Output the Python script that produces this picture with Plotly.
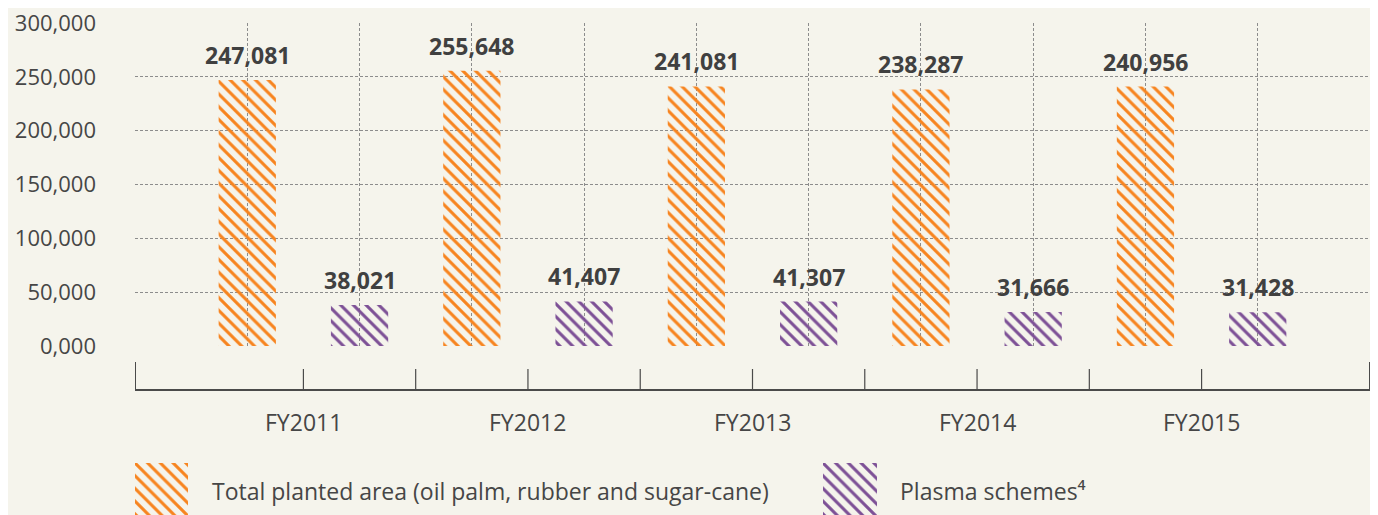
import plotly.graph_objects as go

# data
years = ["FY2011", "FY2012", "FY2013", "FY2014", "FY2015"]
total_planted = [247081, 255648, 241081, 238287, 240956]
plasma = [38021, 41407, 41307, 31666, 31428]
y_ticks = [0, 50000, 100000, 150000, 200000, 250000, 300000]
y_tick_text = ["0,000", "50,000", "100,000", "150,000", "200,000", "250,000", "300,000"]

# the page body adds an 8px margin, so the figure is drawn 8px smaller
OFF = 8
W, H = 1378 - OFF, 515 - OFF
bg = "#F5F4EC"
orange = "#F7841F"
purple = "#7D5096"
text_col = "#464646"
font_family = "'Open Sans', Lato, sans-serif"
fsize = 23


def py(pixel_y):
    # reference pixel row -> paper fraction
    return (H - (pixel_y - OFF)) / H


def px(pixel_x):
    return (pixel_x - OFF) / W


def hatch(col):
    return dict(color="rgba(0,0,0,0)", line=dict(width=0),
                pattern=dict(shape="\\", fgcolor=col, bgcolor="rgba(0,0,0,0)",
                             size=9, solidity=0.34))


# bar positions: orange on odd slots, purple on even slots
x_total = [2 * i + 1 for i in range(len(years))]
x_plasma = [2 * i + 2 for i in range(len(years))]
x_mid = [2 * i + 1.5 for i in range(len(years))]
n_slots = 2 * len(years) + 1

fig = go.Figure()

fig.add_trace(go.Bar(
    x=x_total, y=total_planted, width=0.51, marker=hatch(orange),
    name="Total planted area (oil palm, rubber and sugar-cane)", hoverinfo="skip",
))
fig.add_trace(go.Bar(
    x=x_plasma, y=plasma, width=0.51, marker=hatch(purple),
    name="Plasma schemes⁴", hoverinfo="skip",
))

# legend swatches drawn as tiny bar subplots so they keep the hatch pattern
legend_items = [
    (orange, "Total planted area (oil palm, rubber and sugar-cane)", 135, 188, 210),
    (purple, "Plasma schemes⁴", 823, 877, 898),
]
for k, (col, label, x0, x1, tx) in enumerate(legend_items):
    ax = k + 3
    fig.add_trace(go.Bar(
        x=[0], y=[1], width=1, xaxis=f"x{ax}", yaxis=f"y{ax}",
        marker=hatch(col), hoverinfo="skip", showlegend=False,
    ))
    fig.update_layout({
        f"xaxis{ax}": dict(domain=[px(x0), px(x1)], range=[-0.5, 0.5], visible=False,
                           anchor=f"y{ax}", fixedrange=True),
        f"yaxis{ax}": dict(domain=[0, py(463)], range=[0, 1], visible=False,
                           anchor=f"x{ax}", fixedrange=True),
    })
    fig.add_annotation(x=px(tx), y=py(491), xref="paper", yref="paper",
                       text=label, showarrow=False, xanchor="left", yanchor="middle",
                       font=dict(size=fsize, color=text_col, family=font_family))

# value labels above bars
for xs, vals in [(x_total, total_planted), (x_plasma, plasma)]:
    for x, v in zip(xs, vals):
        fig.add_annotation(x=x, y=v, text=f"<b>{v:,}</b>", showarrow=False,
                           yanchor="bottom", yshift=7,
                           font=dict(size=fsize, color="#404040", family=font_family))

# category labels under the lower axis
for x, yr in zip(x_mid, years):
    fig.add_annotation(x=x, y=py(422), xref="x", yref="paper", text=yr,
                       showarrow=False, yanchor="middle",
                       font=dict(size=fsize, color=text_col, family=font_family))

# lower axis line with ticks
axis_col = "#4a4a4a"
fig.add_shape(type="line", xref="x", yref="paper", x0=0, x1=n_slots,
              y0=py(390), y1=py(390), line=dict(color=axis_col, width=2))
for x in [0, n_slots]:
    fig.add_shape(type="line", xref="x", yref="paper", x0=x, x1=x,
                  y0=py(390), y1=py(362), line=dict(color=axis_col, width=2))
for x in [v + 0.5 for v in range(1, n_slots - 1)]:
    fig.add_shape(type="line", xref="x", yref="paper", x0=x, x1=x,
                  y0=py(390), y1=py(369), line=dict(color=axis_col, width=1.2))

grid = dict(showgrid=True, gridcolor="#8c8c8c", gridwidth=1, griddash="3px,2px",
            zeroline=False, showline=False)

fig.update_layout(
    width=W, height=H,
    template="none",
    paper_bgcolor=bg, plot_bgcolor=bg,
    margin=dict(l=0, r=0, t=0, b=0),
    barmode="overlay",
    showlegend=False,
    font=dict(family=font_family, color=text_col, size=fsize),
    xaxis=dict(domain=[px(135), px(1370)], range=[0, n_slots], tick0=0, dtick=1,
               showticklabels=False, ticks="", automargin=False, fixedrange=True, **grid),
    yaxis=dict(domain=[py(346), py(23)], range=[0, 300000], tickvals=y_ticks,
               ticktext=y_tick_text, ticks="", ticklabelstandoff=38,
               ticklabeloverflow="allow",
               tickfont=dict(size=22, color=text_col, family=font_family),
               automargin=False, fixedrange=True, **grid),
)

fig.write_html("out.html")
